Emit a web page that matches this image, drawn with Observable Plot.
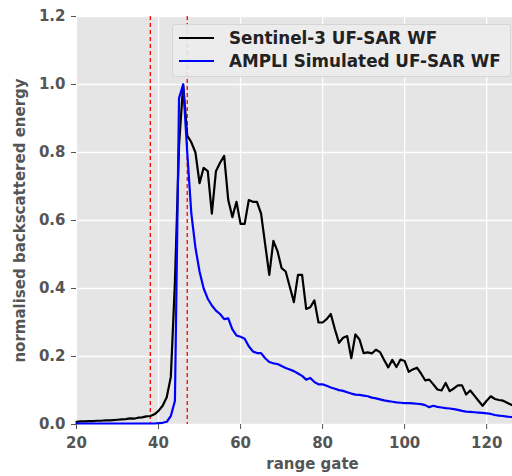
<!DOCTYPE html>
<html>
<head>
<meta charset="utf-8">
<script src="https://cdn.jsdelivr.net/npm/d3@7"></script>
<script src="https://cdn.jsdelivr.net/npm/@observablehq/plot@0.6"></script>
<style>
  html, body { margin: 0; padding: 0; background: #ffffff; overflow: hidden; }
  #wrap { position: relative; width: 512px; height: 476px; }
  #chart svg { display: block; }
  #legend {
    position: absolute; left: 172px; top: 24px; width: 337px; height: 51px;
    background: rgba(236,236,236,0.9); border: 1px solid #d6d6d6; border-radius: 3px;
    font-family: "DejaVu Sans", sans-serif; font-weight: bold; font-size: 16.8px; color: #222;
  }
  .row { position: absolute; left: 0; height: 20px; display: flex; align-items: center; }
  .swatch { width: 35px; height: 2.2px; margin-left: 6px; margin-right: 15px; }
</style>
</head>
<body>
<div id="wrap">
  <div id="chart"></div>
  <div id="legend">
    <div class="row" style="top:3px"><div class="swatch" style="background:#000000"></div><span id="lab0"></span></div>
    <div class="row" style="top:26px"><div class="swatch" style="background:#0000ff"></div><span id="lab1"></span></div>
  </div>
</div>
<script>
// ---- data ----
const firstGate = 20;
const seriesNames = ["Sentinel-3 UF-SAR WF", "AMPLI Simulated UF-SAR WF"];
const sentinel3 = [
  0.008, 0.009, 0.009, 0.010, 0.010, 0.011, 0.011, 0.012, 0.012, 0.013,
  0.014, 0.015, 0.016, 0.018, 0.017, 0.020, 0.021, 0.024, 0.025, 0.030,
  0.040, 0.055, 0.080, 0.140, 0.420, 0.820, 1.000, 0.850, 0.830, 0.800,
  0.710, 0.755, 0.745, 0.620, 0.745, 0.770, 0.790, 0.660, 0.610, 0.655,
  0.590, 0.590, 0.660, 0.655, 0.655, 0.620, 0.530, 0.440, 0.540, 0.510,
  0.460, 0.450, 0.405, 0.360, 0.440, 0.440, 0.340, 0.345, 0.365, 0.300,
  0.300, 0.310, 0.325, 0.280, 0.240, 0.255, 0.260, 0.195, 0.265, 0.250,
  0.210, 0.212, 0.209, 0.220, 0.213, 0.190, 0.168, 0.190, 0.169, 0.191,
  0.187, 0.155, 0.162, 0.167, 0.150, 0.130, 0.132, 0.118, 0.103, 0.100,
  0.122, 0.098, 0.106, 0.115, 0.115, 0.088, 0.100, 0.085, 0.070, 0.055,
  0.070, 0.083, 0.075, 0.072, 0.070, 0.064, 0.058, 0.054
];
const ampli = [
  0.003, 0.003, 0.003, 0.003, 0.003, 0.003, 0.003, 0.003, 0.003, 0.003,
  0.003, 0.003, 0.003, 0.003, 0.003, 0.003, 0.003, 0.003, 0.003, 0.003,
  0.004, 0.005, 0.008, 0.025, 0.070, 0.960, 1.000, 0.800, 0.620, 0.520,
  0.450, 0.400, 0.370, 0.350, 0.335, 0.325, 0.310, 0.312, 0.280, 0.262,
  0.258, 0.252, 0.230, 0.215, 0.210, 0.210, 0.195, 0.184, 0.180, 0.178,
  0.172, 0.166, 0.162, 0.157, 0.150, 0.143, 0.132, 0.137, 0.125, 0.118,
  0.118, 0.114, 0.109, 0.105, 0.101, 0.099, 0.095, 0.091, 0.088, 0.087,
  0.085, 0.083, 0.079, 0.077, 0.074, 0.071, 0.069, 0.067, 0.065, 0.064,
  0.063, 0.063, 0.062, 0.061, 0.060, 0.057, 0.051, 0.055, 0.052, 0.050,
  0.048, 0.047, 0.045, 0.043, 0.040, 0.038, 0.037, 0.036, 0.035, 0.034,
  0.033, 0.031, 0.028, 0.026, 0.025, 0.023, 0.022, 0.021
];
const markerGates = [38, 47];
const xTicks = [20, 40, 60, 80, 100, 120];
const yTicks = [0, 0.2, 0.4, 0.6, 0.8, 1.0, 1.2];
const xLabel = "range gate";
const yLabel = "normalised backscattered energy";

// ---- build ----
const rows = [];
sentinel3.forEach((v, i) => rows.push({gate: firstGate + i, value: v, series: seriesNames[0]}));
ampli.forEach((v, i) => rows.push({gate: firstGate + i, value: v, series: seriesNames[1]}));

const font = "DejaVu Sans, sans-serif";
const chart = Plot.plot({
  width: 512,
  height: 476,
  marginLeft: 76,
  marginRight: 0,
  marginTop: 16,
  marginBottom: 52,
  style: {fontFamily: font, background: "transparent", overflow: "visible"},
  x: {domain: [20, 126.3]},
  y: {domain: [0, 1.2]},
  marks: [
    Plot.frame({fill: "#e5e5e5", stroke: null}),
    Plot.gridX(xTicks, {stroke: "#ffffff", strokeOpacity: 1, strokeWidth: 1.3}),
    Plot.gridY(yTicks, {stroke: "#ffffff", strokeOpacity: 1, strokeWidth: 1.3}),
    Plot.ruleX(markerGates, {stroke: "#ff0000", strokeWidth: 1.3, strokeDasharray: "4,3"}),
    Plot.line(rows.filter(d => d.series === seriesNames[0]), {x: "gate", y: "value", stroke: "#000000", strokeWidth: 2.2}),
    Plot.line(rows.filter(d => d.series === seriesNames[1]), {x: "gate", y: "value", stroke: "#0000ff", strokeWidth: 2.2}),
    Plot.axisX({ticks: xTicks, tickSize: 5, tickPadding: 8, label: null, color: "#555555",
      fontSize: 15, fontWeight: "bold", tickFormat: d => String(d)}),
    Plot.axisY({ticks: yTicks, tickSize: 5, tickPadding: 6, label: null, color: "#555555",
      fontSize: 15, fontWeight: "bold", tickFormat: d3.format(".1f")}),
    Plot.text([yLabel], {frameAnchor: "left", dx: -56, rotate: -90, text: d => d,
      fill: "#555555", fontSize: 15, fontWeight: "bold", textAnchor: "middle", lineAnchor: "middle"}),
    Plot.text([xLabel], {frameAnchor: "bottom", dx: 18, dy: 40, text: d => d,
      fill: "#555555", fontSize: 15, fontWeight: "bold", textAnchor: "middle", lineAnchor: "middle"})
  ]
});
document.getElementById("chart").appendChild(chart);
document.getElementById("lab0").textContent = seriesNames[0];
document.getElementById("lab1").textContent = seriesNames[1];
</script>
</body>
</html>
